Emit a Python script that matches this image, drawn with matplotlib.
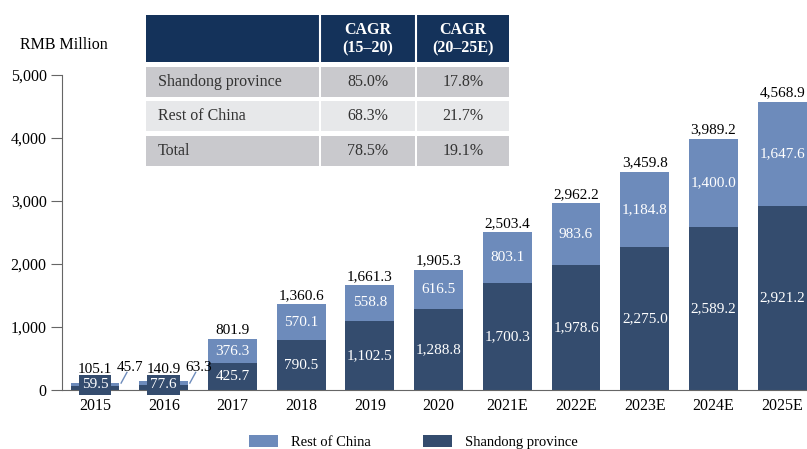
import matplotlib.pyplot as plt
from matplotlib.patches import Rectangle
from matplotlib.ticker import FuncFormatter

plt.rcParams['font.family'] = ['Liberation Serif', 'DejaVu Serif']

# Market size, RMB million
years = ['2015', '2016', '2017', '2018', '2019', '2020',
         '2021E', '2022E', '2023E', '2024E', '2025E']
shandong = [59.5, 77.6, 425.7, 790.5, 1102.5, 1288.8,
            1700.3, 1978.6, 2275.0, 2589.2, 2921.2]
rest = [45.7, 63.3, 376.3, 570.1, 558.8, 616.5,
        803.1, 983.6, 1184.8, 1400.0, 1647.6]
total = [105.1, 140.9, 801.9, 1360.6, 1661.3, 1905.3,
         2503.4, 2962.2, 3459.8, 3989.2, 4568.9]

# CAGR table
row_names = ['Shandong province', 'Rest of China', 'Total']
cagr_15_20 = ['85.0%', '68.3%', '78.5%']
cagr_20_25 = ['17.8%', '21.7%', '19.1%']
col_heads = ['CAGR\n(15–20)', 'CAGR\n(20–25E)']

dark = '#344c6e'
light = '#6d8bbb'
navy = '#14325a'
W, H = 807, 449

fig = plt.figure(figsize=(8.07, 4.49), dpi=100)
ax = fig.add_axes([62 / W, (H - 390) / H, 1 - 62 / W, 315 / H])

x = list(range(len(years)))
ax.bar(x, shandong, width=0.71, color=dark, label='Shandong province')
ax.bar(x, rest, width=0.71, bottom=shandong, color=light, label='Rest of China')

fs = 11.5
fv = 11
for i in x:
    if i < 2:
        ax.text(i, 80, f'{shandong[i]:,.1f}', ha='center', va='center', color='white',
                fontsize=fv, bbox=dict(facecolor=dark, edgecolor='none', pad=2.2),
                zorder=4, clip_on=False)
        ax.text(i, 320, f'{total[i]:,.1f}', ha='center', va='center', fontsize=fv, zorder=5)
        ax.text(i + 0.51, 365, f'{rest[i]:,.1f}', ha='center', va='center', fontsize=fv)
        ax.plot([i + 0.38, i + 0.465], [110, 280], color=light, lw=1)
    else:
        ax.text(i, shandong[i] / 2, f'{shandong[i]:,.1f}', ha='center', va='center',
                color='white', fontsize=fv)
        ax.text(i, shandong[i] + rest[i] / 2, f'{rest[i]:,.1f}', ha='center', va='center',
                color='white', fontsize=fv)
        ax.text(i, total[i] + 40, f'{total[i]:,.1f}', ha='center', va='bottom', fontsize=fv)

ax.set_xlim(-0.48, 10.36)
ax.set_ylim(0, 5000)
ax.set_xticks(x)
ax.set_xticklabels(years, fontsize=fs)
ax.set_yticks(range(0, 5001, 1000))
ax.yaxis.set_major_formatter(FuncFormatter(lambda v, p: f'{int(v):,}'))
ax.tick_params(axis='y', labelsize=fs, length=8, color='#666666', pad=3)
ax.tick_params(axis='x', length=0, pad=6)
for s in ['top', 'right']:
    ax.spines[s].set_visible(False)
for s in ['left', 'bottom']:
    ax.spines[s].set_color('#666666')

fig.text(20 / W, 1 - 45 / H, 'RMB Million', fontsize=fs, va='center', ha='left')

# table drawn in pixel coords of the figure
def px_rect(x0, y0, x1, y1, color):
    fig.patches.append(Rectangle((x0 / W, 1 - y1 / H), (x1 - x0) / W, (y1 - y0) / H,
                                 transform=fig.transFigure, facecolor=color,
                                 edgecolor='none', zorder=5))

cols = [(146, 319), (321, 415), (417, 509)]
px_rect(146, 15, 509, 62, navy)
for j, head in enumerate(col_heads):
    cx = (cols[j + 1][0] + cols[j + 1][1]) / 2
    fig.text(cx / W, 1 - 39 / H, head, ha='center', va='center', color='white',
             fontsize=fs, fontweight='bold', linespacing=1.2, zorder=6)
fig.lines.append(plt.Line2D([320 / W, 320 / W], [1 - 15 / H, 1 - 62 / H],
                            transform=fig.transFigure, color='white', lw=1.5, zorder=6))
fig.lines.append(plt.Line2D([416 / W, 416 / W], [1 - 15 / H, 1 - 62 / H],
                            transform=fig.transFigure, color='white', lw=1.5, zorder=6))

rows_y = [(67, 97), (101, 131), (136, 166)]
row_cols = ['#c9c9cd', '#e7e8ea', '#c9c9cd']
for r, (y0, y1) in enumerate(rows_y):
    for (c0, c1) in cols:
        px_rect(c0, y0, c1, y1, row_cols[r])
    cy = 1 - (y0 + y1) / 2 / H
    fig.text(158 / W, cy, row_names[r], ha='left', va='center', fontsize=fs,
             color='#333333', zorder=6)
    fig.text((cols[1][0] + cols[1][1]) / 2 / W, cy, cagr_15_20[r], ha='center',
             va='center', fontsize=fs, color='#333333', zorder=6)
    fig.text((cols[2][0] + cols[2][1]) / 2 / W, cy, cagr_20_25[r], ha='center',
             va='center', fontsize=fs, color='#333333', zorder=6)

handles, labels = ax.get_legend_handles_labels()
fig.legend(handles[::-1], labels[::-1], loc='center', bbox_to_anchor=(0.512, 0.016),
           ncol=2, frameon=False, fontsize=10.5, handlelength=2.0, handleheight=0.9,
           columnspacing=3.55, handletextpad=0.9)

plt.savefig('out.png', dpi=100)
